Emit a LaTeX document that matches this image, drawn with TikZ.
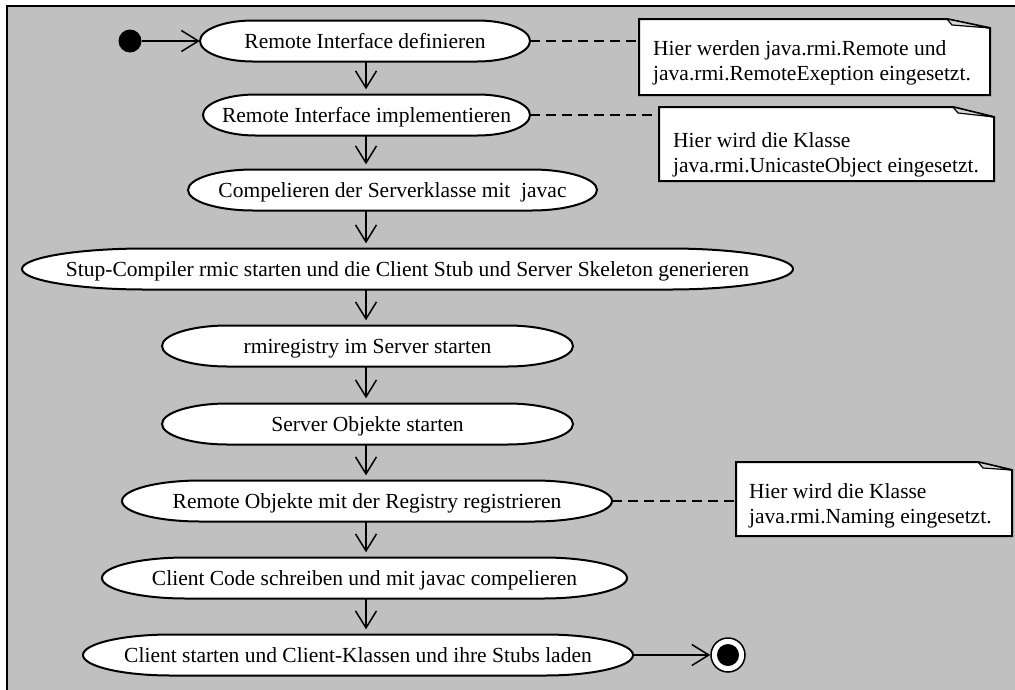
\documentclass[tikz,border=0pt]{standalone}
\usepackage{fontspec}
\setmainfont{Liberation Serif}
\usetikzlibrary{arrows.meta,calc}

\definecolor{panel}{HTML}{C0C0C0}
\definecolor{foldgray}{HTML}{D8D8D8}

% activity state: rounded terminator outline plus a named text node
% #1 name, #2 centre x, #3 centre y, #4 width, #5 label
\newcommand\actstate[5]{%
  \pgfmathsetmacro\actrx{0.16*#4}%
  \pgfmathsetmacro\acthw{#4/2}%
  \filldraw[actshape] ({#2-\acthw+\actrx},{#3+20.5}) -- ({#2+\acthw-\actrx},{#3+20.5})
    arc[start angle=90,end angle=-90,x radius=\actrx pt,y radius=20.5pt]
    -- ({#2-\acthw+\actrx},{#3-20.5})
    arc[start angle=270,end angle=90,x radius=\actrx pt,y radius=20.5pt] -- cycle;
  \node[acttext,minimum width=#4pt,minimum height=41pt] (#1) at (#2,#3) {#5};
}

% note with dog-ear: #1 name, #2 left, #3 top, #4 right, #5 bottom, #6 fold x, #7 fold y
\newcommand\umlnote[7]{%
  \filldraw[noteshape] (#2,#3) -- (#6,#3) -- (#4,#7) -- (#4,#5) -- (#2,#5) -- cycle;
  \filldraw[notefold] (#6,#3) -- ({#6+5},{#3-6}) -- (#4,#7) -- cycle;
  \pgfmathsetmacro\notew{#4-(#2)}%
  \pgfmathsetmacro\noteh{#3-(#5)}%
  \node[notearea,minimum width=\notew pt,minimum height=\noteh pt]
    (#1) at ({(#2+#4)/2},{(#3+#5)/2}) {};
}

\begin{document}
\begin{tikzpicture}[x=1pt,y=1pt,
  actshape/.style={fill=white,draw=black,line width=2pt},
  acttext/.style={inner sep=0pt,text height=14.2pt,text depth=0pt,
    font=\fontsize{21.5}{25}\selectfont},
  notetext/.style={inner sep=0pt,anchor=north west,align=left,
    font=\fontsize{21.5}{25}\selectfont},
  noteshape/.style={fill=white,draw=black,line width=2pt,line join=miter},
  notefold/.style={fill=foldgray,draw=black,line width=1.2pt},
  notearea/.style={inner sep=0pt,outer sep=0pt},
  notelink/.style={draw=black,line width=1.5pt,dash pattern=on 10pt off 6pt},
  flow/.style={draw=black,line width=1.5pt,-{Straight Barb[length=17pt,width=21pt]}},
  startdot/.style={circle,fill=black,inner sep=0pt,minimum size=23pt},
  endring/.style={circle,draw=black,fill=white,line width=1.5pt,inner sep=0pt,minimum size=34pt},
  enddot/.style={circle,fill=black,inner sep=0pt,minimum size=22pt}
]
\useasboundingbox (0,0) rectangle (1015,-689);

% frame of the diagram
\begin{scope}
  \clip (0,0) rectangle (1015,-689);
  \filldraw[fill=panel,draw=black,line width=2pt] (7,-6) rectangle (1040,-720);
\end{scope}

% activity states
\actstate{n1}{365}{-41}{330}{Remote Interface definieren}
\actstate{n2}{366.5}{-115}{327}{Remote Interface implementieren}
\actstate{n3}{392.5}{-190}{409}{Compelieren der Serverklasse mit\ \ javac}
\actstate{n4}{407.5}{-269}{771}{Stup-Compiler rmic starten und die Client Stub und Server Skeleton generieren}
\actstate{n5}{367.5}{-346}{411}{rmiregistry im Server starten}
\actstate{n6}{367.5}{-424}{411}{Server Objekte starten}
\actstate{n7}{367}{-501}{490}{Remote Objekte mit der Registry registrieren}
\actstate{n8}{364.5}{-578}{525}{Client Code schreiben und mit javac compelieren}
\actstate{n9}{358}{-655}{550}{Client starten und Client-Klassen und ihre Stubs laden}

% initial and final states
\node[startdot] (start) at (130,-41) {};
\node[endring] (end) at (728,-655) {};
\node[enddot] (enddot) at (end) {};

% control flow
\coordinate (ax) at (366,0);
\draw[flow] (start) -- (n1);
\foreach \a/\b in {n1/n2,n2/n3,n3/n4,n4/n5,n5/n6,n6/n7,n7/n8,n8/n9}
  \draw[flow,shorten >=5pt] (\a.south -| ax) -- (\b.north -| ax);
\draw[flow] (n9) -- (end);

% notes
\umlnote{note1}{639}{-19}{990}{-95}{947}{-28}
\umlnote{note2}{659}{-107}{994}{-181}{953}{-117}
\umlnote{note3}{736}{-462}{1012}{-536}{978}{-470}

\node[notetext] (t1) at (653,-40.5) {Hier werden java.rmi.Remote und\\java.rmi.RemoteExeption eingesetzt.};
\node[notetext] (t2) at (673,-132.5) {Hier wird die Klasse\\java.rmi.UnicasteObject eingesetzt.};
\node[notetext] (t3) at (749,-483.5) {Hier wird die Klasse\\java.rmi.Naming eingesetzt.};

\draw[notelink] (n1.east) -- (n1.east -| note1.west);
\draw[notelink] (n2.east) -- (n2.east -| note2.west);
\draw[notelink] (n7.east) -- (n7.east -| note3.west);
\end{tikzpicture}
\end{document}
